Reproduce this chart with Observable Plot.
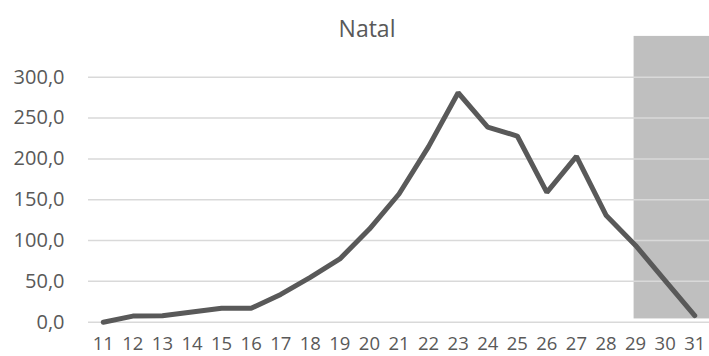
<!DOCTYPE html>
<html>
<head>
<meta charset="utf-8">
<script src="https://cdn.jsdelivr.net/npm/d3@7"></script>
<script src="https://cdn.jsdelivr.net/npm/@observablehq/plot@0.6"></script>
<style>
  html, body { margin: 0; padding: 0; background: #fff; }
  #chart svg { display: block; }
</style>
</head>
<body>
<div id="chart"></div>
<script>
// Data
const title = "Natal";
const days = [11, 12, 13, 14, 15, 16, 17, 18, 19, 20, 21, 22, 23, 24, 25, 26, 27, 28, 29, 30, 31];
const values = [0, 7.5, 8, 12.5, 17, 17, 34, 55, 77.5, 114, 157, 215, 281, 239, 228, 159, 203, 131, 94, 51, 8];
const yTicks = [0, 50, 100, 150, 200, 250, 300];
// Shaded period (projection)
const shadeStart = [28.95];
const shadeEnd = [31.5];
const shadeLow = [4];
const shadeHigh = [350];

const series = days.map((d, i) => ({day: d, value: values[i]}));
const shade = shadeStart.map((s, i) => ({x1: s, x2: shadeEnd[i], y1: shadeLow[i], y2: shadeHigh[i]}));
const fmt = v => d3.format(".1f")(v).replace(".", ",");

const chart = Plot.plot({
  width: 709,
  height: 356,
  marginLeft: 88,
  marginRight: 0,
  marginTop: 35.9,
  marginBottom: 34.3,
  style: {fontFamily: "'Open Sans', sans-serif", color: "#595959", background: "#fff"},
  x: {domain: [10.5, 31.5], axis: null},
  y: {domain: [0, 350], axis: null},
  marks: [
    Plot.rect(shade, {x1: "x1", x2: "x2", y1: "y1", y2: "y2", fill: "#bfbfbf"}),
    Plot.ruleY(yTicks, {stroke: "#d9d9d9", strokeWidth: 1.5}),
    Plot.axisY(yTicks, {tickSize: 0, tickPadding: 0, dx: -24, tickFormat: fmt, fontSize: 20, fill: "#595959", anchor: "left"}),
    Plot.axisX(days, {tickSize: 0, tickPadding: 0, dy: 15, tickFormat: d => String(d), fontSize: 18.5, fill: "#595959", anchor: "bottom"}),
    Plot.line(series, {x: "day", y: "value", stroke: "#595959", strokeWidth: 5, strokeLinejoin: "miter", strokeLinecap: "round"}),
    Plot.text([title], {frameAnchor: "top", dx: -32, dy: 1, lineAnchor: "bottom", fontSize: 23, fill: "#595959"})
  ]
});
document.getElementById("chart").appendChild(chart);
</script>
</body>
</html>
